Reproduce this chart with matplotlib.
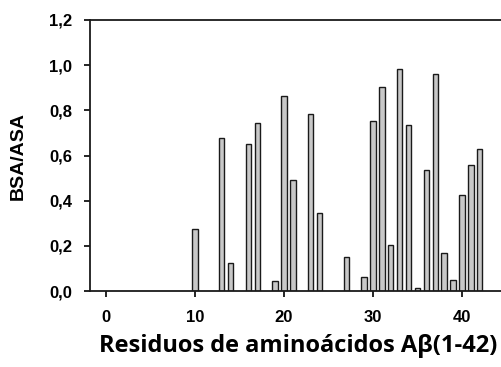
import matplotlib
matplotlib.use("Agg")
import matplotlib.pyplot as plt
import numpy as np

# Residuos y valores BSA/ASA
residuos = [10, 13, 14, 16, 17, 19, 20, 21, 23, 24, 27, 29, 30, 31, 32, 33,
            34, 35, 36, 37, 38, 39, 40, 41, 42]
bsa_asa = [0.275, 0.677, 0.124, 0.652, 0.745, 0.043, 0.864, 0.493, 0.782, 0.345,
           0.149, 0.062, 0.752, 0.903, 0.205, 0.984, 0.733, 0.012, 0.538, 0.959,
           0.168, 0.049, 0.425, 0.558, 0.627]

xticks = [0, 10, 20, 30, 40]
yticks = [0.0, 0.2, 0.4, 0.6, 0.8, 1.0, 1.2]
ytick_labels = ["0,0", "0,2", "0,4", "0,6", "0,8", "1,0", "1,2"]

plt.rcParams['font.family'] = ['Liberation Sans', 'DejaVu Sans']

fig = plt.figure(figsize=(5.02, 3.67), dpi=100)
ax = fig.add_axes([90 / 502, 1 - 291 / 367, 1 - 90 / 502, 271 / 367])

ax.bar(residuos, bsa_asa, width=0.6, color="#c8c8c8", edgecolor="#1a1a1a",
       linewidth=1.0)

ax.set_xlim(-1.8, 44.5)
ax.set_ylim(0, 1.2)
ax.set_xticks(xticks)
ax.set_yticks(yticks)
ax.set_yticklabels(ytick_labels)
ax.spines["right"].set_visible(False)
for s in ["left", "top", "bottom"]:
    ax.spines[s].set_linewidth(1.3)
    ax.spines[s].set_color("#1a1a1a")

ax.tick_params(direction="out", length=4, width=1.2, labelsize=12)
ax.tick_params(axis="x", pad=10)
ax.tick_params(axis="y", pad=9)
for lab in ax.get_xticklabels() + ax.get_yticklabels():
    lab.set_fontweight("bold")

ax.set_ylabel("BSA/ASA", fontsize=14, fontweight="bold")
ax.yaxis.set_label_coords(-63 / 412, 0.5)
fig.text(0.594, 0.058, "Residuos de aminoácidos Aβ(1-42)", ha="center", va="center",
         fontsize=17, fontweight="bold", family=["Open Sans", "DejaVu Sans"])

fig.savefig("out.png", dpi=100)
